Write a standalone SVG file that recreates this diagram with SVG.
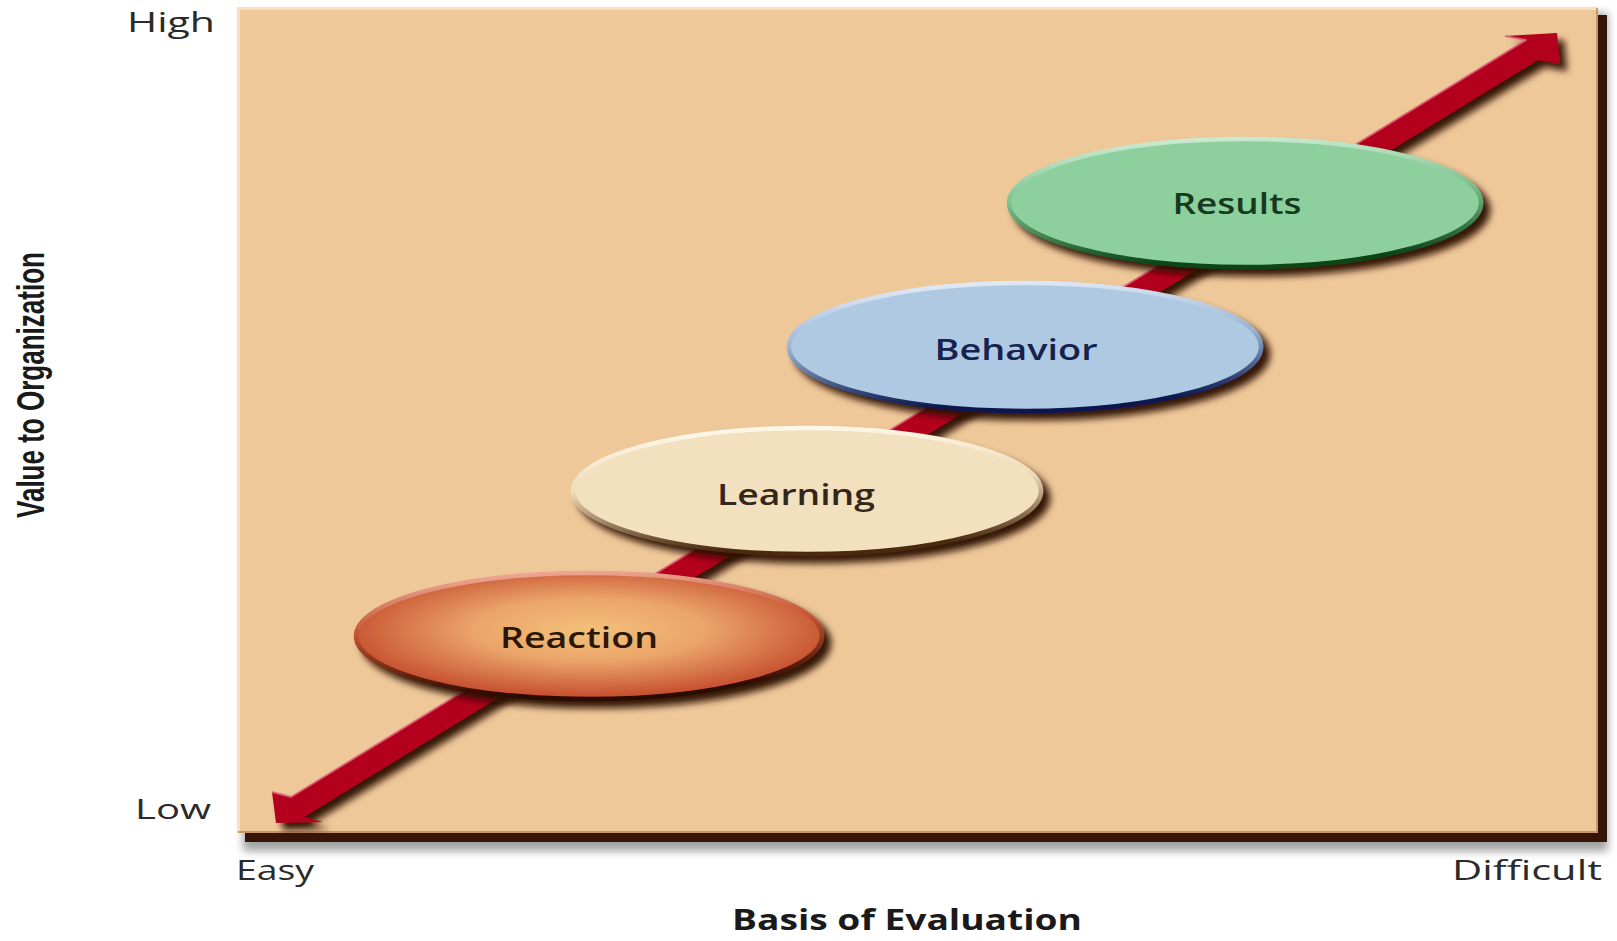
<svg xmlns="http://www.w3.org/2000/svg" width="1617" height="941" viewBox="0 0 1617 941">
  <style>
    .axis { font-family: "Open Sans", "Liberation Sans", sans-serif; font-size: 28px; fill: #2a2a2a; }
    .lbl { font-family: "Open Sans", "Liberation Sans", sans-serif; font-size: 29px; font-weight: 600; }
    .title { font-family: "Open Sans", "Liberation Sans", sans-serif; font-size: 28px; font-weight: 700; fill: #1a1a1a; }
    .vtitle { font-family: "Liberation Sans Narrow", "Liberation Sans", sans-serif; font-size: 38px; font-weight: 700; fill: #1a1a1a; }
  </style>
  <defs>
    <filter id="softShadow" x="-5%" y="-5%" width="115%" height="115%">
      <feGaussianBlur stdDeviation="4"/>
    </filter>
    <filter id="arrowShadow" x="-5%" y="-10%" width="115%" height="130%">
      <feDropShadow dx="7" dy="7" stdDeviation="3.5" flood-color="#2a0800" flood-opacity="0.95"/>
    </filter>
    <filter id="ovalShadow" x="-10%" y="-20%" width="125%" height="150%">
      <feDropShadow dx="7" dy="7" stdDeviation="3.5" flood-color="#2a1000" flood-opacity="0.95"/>
    </filter>
    <radialGradient id="gReaction" cx="0.5" cy="0.45" r="0.55">
      <stop offset="0" stop-color="#F4C07A"/>
      <stop offset="0.45" stop-color="#EBA56A"/>
      <stop offset="1" stop-color="#C44A2C"/>
    </radialGradient>
    <linearGradient id="rimReaction" x1="0" y1="0" x2="0.15" y2="1">
      <stop offset="0" stop-color="#F4B0A0"/>
      <stop offset="0.5" stop-color="#C0502C"/>
      <stop offset="1" stop-color="#2a0800"/>
    </linearGradient>
    <linearGradient id="rimLearning" x1="0" y1="0" x2="0.15" y2="1">
      <stop offset="0" stop-color="#FFFBF0"/>
      <stop offset="0.5" stop-color="#F0DCB8"/>
      <stop offset="1" stop-color="#4a2a10"/>
    </linearGradient>
    <linearGradient id="rimBehavior" x1="0" y1="0" x2="0.15" y2="1">
      <stop offset="0" stop-color="#E8F0FA"/>
      <stop offset="0.5" stop-color="#9AB4D4"/>
      <stop offset="1" stop-color="#0A1850"/>
    </linearGradient>
    <linearGradient id="rimResults" x1="0" y1="0" x2="0.15" y2="1">
      <stop offset="0" stop-color="#D4F0DA"/>
      <stop offset="0.5" stop-color="#7CC08E"/>
      <stop offset="1" stop-color="#0C4518"/>
    </linearGradient>
  </defs>

  <rect width="1617" height="941" fill="#ffffff"/>

  <!-- plot area -->
  <g id="plot">
    <rect x="243" y="13" width="1365" height="838" fill="#555" opacity="0.55" filter="url(#softShadow)"/>
    <rect x="245" y="15" width="1362" height="827" fill="#361408"/>
    <rect x="237" y="7" width="1361" height="826" fill="#EEC898"/>
    <path d="M238.5 833 V8.5 H1598" fill="none" stroke="#F6E2C2" stroke-width="3"/>
    <path d="M238 832 H1597 V8" fill="none" stroke="#B9884E" stroke-width="1.5"/>
  </g>

  <!-- connector: double-headed arrow -->
  <g id="connectors">
    <polygon filter="url(#arrowShadow)" fill="#B3001E"
      points="276,823 272,792 291,797 1526,40 1505,36 1557,33 1560,64 1538,60 304,817 323,822"/>
    <polyline points="272,792 291,797 1526,40 1505,36" fill="none" stroke="#E0607A" stroke-width="2" stroke-linejoin="round" opacity="0.8"/>
  </g>

  <!-- nodes -->
  <g id="node-reaction">
    <ellipse cx="589" cy="636" rx="233" ry="63" fill="url(#gReaction)" stroke="url(#rimReaction)" stroke-width="4.5" filter="url(#ovalShadow)"/>
    <text class="lbl" x="579" y="648" text-anchor="middle" fill="#2b1806" textLength="158" lengthAdjust="spacingAndGlyphs">Reaction</text>
  </g>
  <g id="node-learning">
    <ellipse cx="807" cy="491" rx="234" ry="63" fill="#F3E0BF" stroke="url(#rimLearning)" stroke-width="4.5" filter="url(#ovalShadow)"/>
    <text class="lbl" x="796" y="505" text-anchor="middle" fill="#33261a" textLength="158" lengthAdjust="spacingAndGlyphs">Learning</text>
  </g>
  <g id="node-behavior">
    <ellipse cx="1025" cy="347" rx="236" ry="64" fill="#B0C9E3" stroke="url(#rimBehavior)" stroke-width="4.5" filter="url(#ovalShadow)"/>
    <text class="lbl" x="1016" y="360" text-anchor="middle" fill="#17224e" textLength="163" lengthAdjust="spacingAndGlyphs">Behavior</text>
  </g>
  <g id="node-results">
    <ellipse cx="1245" cy="203" rx="236" ry="64" fill="#8DCF9D" stroke="url(#rimResults)" stroke-width="4.5" filter="url(#ovalShadow)"/>
    <text class="lbl" x="1237" y="214" text-anchor="middle" fill="#173a1e" textLength="129" lengthAdjust="spacingAndGlyphs">Results</text>
  </g>

  <!-- axis labels -->
  <g id="axis-labels">
    <text class="axis" x="127" y="32" textLength="88" lengthAdjust="spacingAndGlyphs">High</text>
    <text class="axis" x="135" y="819" textLength="76" lengthAdjust="spacingAndGlyphs">Low</text>
    <text class="axis" x="236" y="880" textLength="78" lengthAdjust="spacingAndGlyphs">Easy</text>
    <text class="axis" x="1452" y="880" textLength="150" lengthAdjust="spacingAndGlyphs">Difficult</text>
    <text class="title" x="907" y="930" text-anchor="middle" textLength="350" lengthAdjust="spacingAndGlyphs">Basis of Evaluation</text>
    <text class="vtitle" transform="translate(44,385) rotate(-90)" x="0" y="0" text-anchor="middle" textLength="266" lengthAdjust="spacingAndGlyphs">Value to Organization</text>
  </g>
</svg>
